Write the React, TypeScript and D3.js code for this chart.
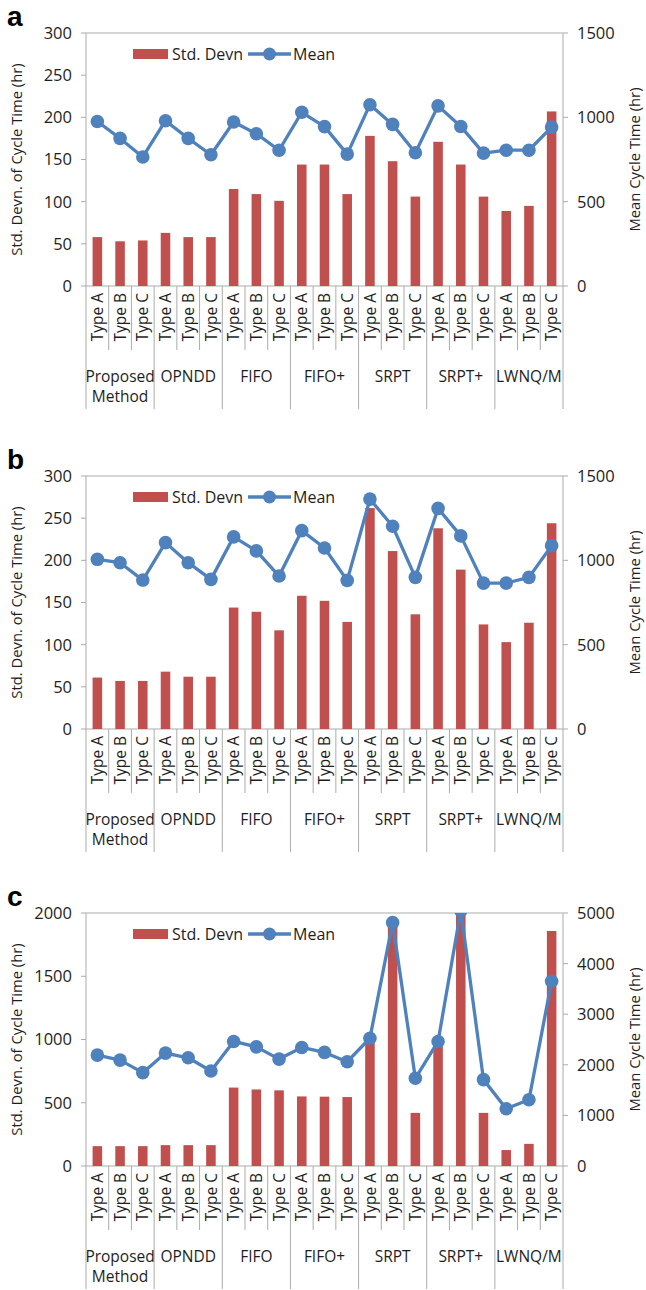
import React from "react";
import * as d3 from "d3";

// categories
const groups = ["Proposed|Method", "OPNDD", "FIFO", "FIFO+", "SRPT", "SRPT+", "LWNQ/M"];
const types = ["Type A", "Type B", "Type C"];

// panel a
const stdA = [58, 53, 54, 63, 58, 58, 115, 109, 101, 144, 144, 109, 178, 148, 106, 171, 144, 106, 89, 95, 207];
const meanA = [975, 875, 765, 980, 875, 778, 972, 903, 805, 1030, 945, 782, 1075, 958, 790, 1068, 946, 788, 805, 805, 942];

// panel b
const stdB = [61, 57, 57, 68, 62, 62, 144, 139, 117, 158, 152, 127, 262, 211, 136, 238, 189, 124, 103, 126, 244];
const meanB = [1006, 986, 883, 1105, 986, 887, 1139, 1056, 907, 1176, 1073, 881, 1363, 1202, 899, 1308, 1145, 865, 865, 899, 1087];

// panel c
const stdC = [157, 157, 157, 165, 165, 165, 620, 605, 598, 550, 548, 545, 1000, 1900, 420, 950, 2050, 420, 126, 175, 1858];
const meanC = [2192, 2093, 1845, 2231, 2139, 1877, 2461, 2355, 2113, 2343, 2245, 2060, 2526, 4810, 1734, 2461, 5050, 1707, 1131, 1308, 3651];

const leftTicksAB = [0, 50, 100, 150, 200, 250, 300];
const rightTicksAB = [0, 500, 1000, 1500];
const leftTicksC = [0, 500, 1000, 1500, 2000];
const rightTicksC = [0, 1000, 2000, 3000, 4000, 5000];

const RED = "#C0504D";
const BLUE = "#4F81BD";
const GRID = "#ababab";
const TXT = "#1e1e1e";
const FONT = "'Open Sans', sans-serif";

const X0 = 86, X1 = 563, PH = 253;

const cats = groups.flatMap((g, gi) => types.map((t, ti) => gi * 3 + ti));
const x = d3.scaleBand<number>().domain(cats).range([X0, X1]).padding(0);

function Panel({ id, label, top, std, mean, lTicks, rTicks }) {
  const bottom = top + PH;
  const yL = d3.scaleLinear().domain([0, lTicks[lTicks.length - 1]]).range([bottom, top]);
  const yR = d3.scaleLinear().domain([0, rTicks[rTicks.length - 1]]).range([bottom, top]);
  const bw = x.bandwidth();
  const barW = bw * 0.42;
  const cx = (i) => x(i) + bw / 2;
  const line = d3.line<number>().x((d, i) => cx(i)).y((d) => yR(d))(mean);

  return (
    <g>
      <defs>
        <clipPath id={"clip" + id}>
          <rect x={X0} y={top} width={X1 - X0} height={PH} />
        </clipPath>
      </defs>
      <text x={7} y={top - 7} fontFamily="'Liberation Sans', Arial, sans-serif" fontWeight="bold" fontSize={28} fill="#000">{label}</text>

      {/* frame */}
      <line x1={X0} x2={X1} y1={top} y2={top} stroke={GRID} />
      <line x1={X0} x2={X0} y1={top} y2={bottom} stroke={GRID} />
      <line x1={X1} x2={X1} y1={top} y2={bottom} stroke={GRID} />
      <line x1={X0} x2={X1} y1={bottom} y2={bottom} stroke={GRID} />

      {/* left axis */}
      {lTicks.map((t) => (
        <g key={"l" + t}>
          <line x1={X0 - 5} x2={X0} y1={yL(t)} y2={yL(t)} stroke={GRID} />
          <text x={72} y={yL(t)} dy="0.36em" textAnchor="end" fontSize={16.5} fontFamily={FONT} fill={TXT}>{t}</text>
        </g>
      ))}
      <text transform={`translate(17,${(top + bottom) / 2}) rotate(-90)`} textAnchor="middle" dy="0.36em" fontSize={14.8} fontFamily={FONT} fill={TXT}>Std. Devn. of Cycle Time (hr)</text>

      {/* right axis */}
      {rTicks.map((t) => (
        <g key={"r" + t}>
          <line x1={X1} x2={X1 + 5} y1={yR(t)} y2={yR(t)} stroke={GRID} />
          <text x={577} y={yR(t)} dy="0.36em" textAnchor="start" fontSize={16.5} fontFamily={FONT} fill={TXT}>{t}</text>
        </g>
      ))}
      <text transform={`translate(635,${(top + bottom) / 2}) rotate(-90)`} textAnchor="middle" dy="0.36em" fontSize={14.8} fontFamily={FONT} fill={TXT}>Mean Cycle Time (hr)</text>

      {/* bars and mean line */}
      <g clipPath={`url(#clip${id})`}>
        {std.map((v, i) => (
          <rect key={i} x={cx(i) - barW / 2} y={yL(v)} width={barW} height={bottom - yL(v)} fill={RED} />
        ))}
        <path d={line} fill="none" stroke={BLUE} strokeWidth={3.3} strokeLinejoin="round" />
        {mean.map((v, i) => (
          <circle key={i} cx={cx(i)} cy={yR(v)} r={6.8} fill={BLUE} />
        ))}
      </g>

      {/* legend */}
      <rect x={133} y={top + 16} width={35} height={10} fill={RED} />
      <text x={172} y={top + 21} dy="0.36em" fontSize={16} fontFamily={FONT} fill={TXT}>Std. Devn</text>
      <line x1={248} x2={291} y1={top + 21} y2={top + 21} stroke={BLUE} strokeWidth={3.3} />
      <circle cx={269.5} cy={top + 21} r={6.5} fill={BLUE} />
      <text x={293} y={top + 21} dy="0.36em" fontSize={16} fontFamily={FONT} fill={TXT}>Mean</text>

      {/* category axis */}
      {d3.range(cats.length + 1).map((i) => {
        const xx = i < cats.length ? x(i) : X1;
        const long = i % 3 === 0;
        return <line key={"s" + i} x1={xx} x2={xx} y1={bottom} y2={bottom + (long ? 123 : 64)} stroke={GRID} />;
      })}
      {cats.map((c) => (
        <text key={"t" + c} transform={`translate(${cx(c)},${bottom + 7}) rotate(-90)`} textAnchor="end" dy="0.36em" fontSize={15.5} fontFamily={FONT} fill={TXT}>{types[c % 3]}</text>
      ))}
      {groups.map((g, gi) => {
        const mid = (x(gi * 3) + x(gi * 3 + 2) + bw) / 2;
        return g.split("|").map((part, k) => (
          <text key={g + k} x={mid} y={bottom + 96 + k * 20} textAnchor="middle" fontSize={15.5} fontFamily={FONT} fill={TXT}>{part}</text>
        ));
      })}
    </g>
  );
}

export default function App() {
  return (
    <div style={{ position: "absolute", left: 0, top: 0 }}>
      <svg width={646} height={1290} style={{ display: "block", background: "#fff" }}>
        <Panel id="a" label="a" top={33} std={stdA} mean={meanA} lTicks={leftTicksAB} rTicks={rightTicksAB} />
        <Panel id="b" label="b" top={476} std={stdB} mean={meanB} lTicks={leftTicksAB} rTicks={rightTicksAB} />
        <Panel id="c" label="c" top={913} std={stdC} mean={meanC} lTicks={leftTicksC} rTicks={rightTicksC} />
      </svg>
    </div>
  );
}
